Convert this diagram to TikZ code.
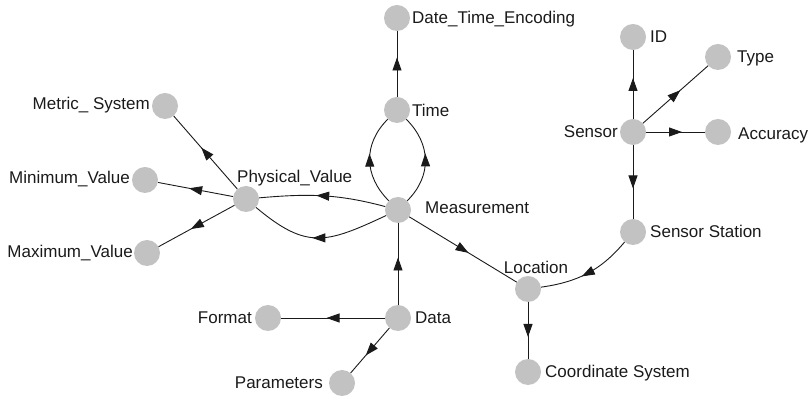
\documentclass[tikz,border=0pt]{standalone}
\usepackage{fontspec}
\setmainfont{Liberation Sans}
\usetikzlibrary{decorations.markings,arrows.meta}
\definecolor{vgray}{HTML}{C2C2C2}
\definecolor{lin}{HTML}{1A1A1A}
\definecolor{txt}{HTML}{1A1A1A}
\begin{document}
\begin{tikzpicture}[x=1pt,y=1pt,
  vtx/.style={circle,fill=vgray,draw=none,minimum size=26pt,inner sep=0pt},
  lbl/.style={font=\fontsize{17}{20}\selectfont,text=txt,inner sep=0pt},
  edge/.style={draw=lin,line width=0.9pt,postaction={decorate},
    decoration={markings,mark=at position 0.5 with {\arrow[xshift=6.5pt,lin]{Triangle[length=13pt,width=9pt]}}}}]
\useasboundingbox (0,0) rectangle (810,398);
% vertices
\node[vtx] (dte) at (397,380) {};
\node[vtx] (tm) at (397,288) {};
\node[vtx] (ms) at (398,188) {};
\node[vtx] (pv) at (246,199) {};
\node[vtx] (met) at (165,292) {};
\node[vtx] (min) at (145,218) {};
\node[vtx] (max) at (147,145) {};
\node[vtx] (data) at (398,80) {};
\node[vtx] (fmt) at (268,80) {};
\node[vtx] (par) at (342,15) {};
\node[vtx] (loc) at (528,109) {};
\node[vtx] (cs) at (528,26) {};
\node[vtx] (ss) at (633,166) {};
\node[vtx] (sen) at (633,266) {};
\node[vtx] (id) at (633,361) {};
\node[vtx] (typ) at (718,341) {};
\node[vtx] (acc) at (718,266) {};
% labels
\node[lbl,anchor=base west] (ldte) at (412,374) {Date\_Time\_Encoding};
\node[lbl,anchor=base west] (ltm) at (412,281) {Time};
\node[lbl,anchor=base west] (lid) at (650,355) {ID};
\node[lbl,anchor=base west] (ltyp) at (737,335) {Type};
\node[lbl,anchor=base east] (lsen) at (618,260) {Sensor};
\node[lbl,anchor=base west] (lacc) at (738,258) {Accuracy};
\node[lbl,anchor=base west] (lss) at (650,160) {Sensor Station};
\node[lbl,anchor=base] (lloc) at (536,124) {Location};
\node[lbl,anchor=base west] (lcs) at (545,20) {Coordinate System};
\node[lbl,anchor=base west] (lms) at (425,184) {Measurement};
\node[lbl,anchor=base west] (ldata) at (415,74) {Data};
\node[lbl,anchor=base east] (lfmt) at (252,74) {Format};
\node[lbl,anchor=base east] (lpar) at (323,9) {Parameters};
\node[lbl,anchor=base west] (lpv) at (237,215) {Physical\_Value};
\node[lbl,anchor=base east] (lmet) at (150,288) {Metric\_ System};
\node[lbl,anchor=base east] (lmin) at (130,214) {Minimum\_Value};
\node[lbl,anchor=base east] (lmax) at (133,140) {Maximum\_Value};
% edges
\draw[edge] (tm) -- (dte);
\draw[edge] (ms) to[out=135,in=225,looseness=1.1] (tm);
\draw[edge] (ms) to[out=45,in=-45,looseness=1.1] (tm);
\draw[edge] (ms) to[out=165,in=5] (pv);
\draw[edge] (ms) to[out=205,in=-40,looseness=1.3] (pv);
\draw[edge] (pv) -- (met);
\draw[edge] (pv) -- (min);
\draw[edge] (pv) -- (max);
\draw[edge] (data) -- (ms);
\draw[edge] (data) -- (fmt);
\draw[edge] (data) -- (par);
\draw[edge] (ms) -- (loc);
\draw[edge] (loc) -- (cs);
\draw[edge] (ss) to[out=230,in=8] (loc);
\draw[edge] (sen) -- (ss);
\draw[edge] (sen) -- (id);
\draw[edge] (sen) -- (typ);
\draw[edge] (sen) -- (acc);
\end{tikzpicture}
\end{document}
